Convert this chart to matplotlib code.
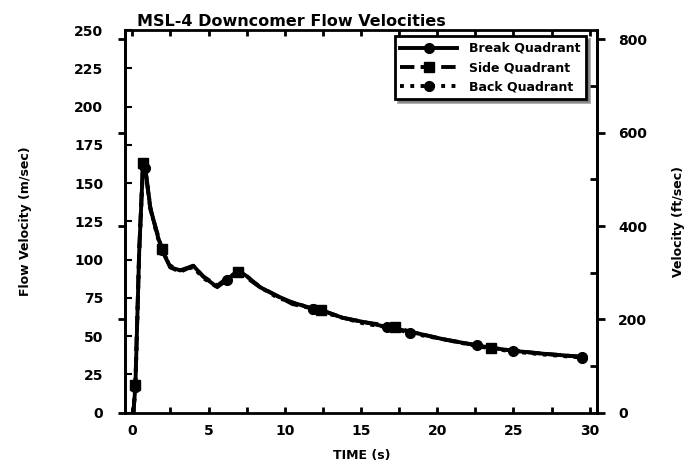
import matplotlib
matplotlib.use("Agg")
import matplotlib.pyplot as plt
from matplotlib.ticker import MultipleLocator, FixedLocator

plt.rcParams.update({
    "font.family": "DejaVu Sans",
    "font.weight": "bold",
    "font.size": 10,
})

# ── data ─────────────────────────────────────────────────────────────────────
time_s = [0.07, 0.2, 0.45, 0.7, 0.85, 1.18, 1.62, 1.95, 2.49, 3.14, 4.0, 4.65,
          5.57, 6.22, 6.94, 7.53, 8.38, 9.56, 10.5, 11.85, 12.4, 13.8, 15.3,
          16.7, 17.2, 18.2, 20.4, 22.6, 23.5, 24.95, 27.0, 29.5]

break_quadrant = [0, 17, 105, 162, 160, 134, 117, 106, 95, 93, 96, 89,
                  82, 87, 93, 89, 82, 76, 72, 68, 67, 62, 59,
                  56, 55, 53, 48, 44, 42.5, 40.5, 38.5, 36.5]
side_quadrant = [0, 18, 106, 163, 159, 133, 118, 107, 95, 92, 96, 89,
                 83, 88, 92, 88, 82, 76, 71, 68, 67, 62, 59,
                 57, 56, 53, 48, 44, 42.5, 40.5, 38.5, 36.5]
back_quadrant = [0, 17, 104, 161, 160, 134, 116, 106, 96, 93, 95, 88,
                 82, 87, 92, 89, 82, 75, 72, 68, 66, 62, 58,
                 56, 55, 52, 48, 43.5, 42, 40, 38, 36]

break_marks = [1, 3, 7, 19, 23, 27, 31]
side_marks = [1, 3, 7, 14, 20, 24, 28]
back_marks = [1, 4, 13, 19, 25, 29, 31]

x_ticks = [0, 5, 10, 15, 20, 25, 30]
y_ticks_ms = [0, 25, 50, 75, 100, 125, 150, 175, 200, 225, 250]
y_ticks_fts = [0, 200, 400, 600, 800]

FT = 0.3048


def ms_to_fts(v):
    return v / FT


def fts_to_ms(v):
    return v * FT


fig = plt.figure(figsize=(6.97, 4.69), dpi=100)
ax = fig.add_axes([0.180, 0.120, 0.677, 0.816])

ax.plot(time_s, break_quadrant, color="black", lw=2.8, ls="-",
        marker="o", markersize=7, markevery=break_marks, label="Break Quadrant")
ax.plot(time_s, side_quadrant, color="black", lw=2.8, ls="--",
        marker="s", markersize=7, markevery=side_marks, label="Side Quadrant")
ax.plot(time_s, back_quadrant, color="black", lw=2.8, ls=":",
        marker="o", markersize=7, markevery=back_marks, label="Back Quadrant")

ax.set_xlim(-0.45, 30.5)
ax.set_ylim(0, 250)
ax.set_xticks(x_ticks)
ax.xaxis.set_minor_locator(MultipleLocator(2.5))
ax.set_yticks(y_ticks_ms)
ax.tick_params(axis="x", which="both", direction="in", top=True, length=4,
               width=2, pad=8)
ax.tick_params(axis="y", which="major", direction="in", length=5, width=1.5,
               pad=16)
for s in ax.spines.values():
    s.set_linewidth(2)

# outward ticks on the left spine at 200 ft/s steps
left_fts = ax.secondary_yaxis("left", functions=(ms_to_fts, fts_to_ms))
left_fts.yaxis.set_major_locator(FixedLocator(y_ticks_fts))
left_fts.tick_params(direction="out", length=5, width=2, labelleft=False)
left_fts.spines["left"].set_linewidth(2)

# right axis in ft/s
right = ax.secondary_yaxis("right", functions=(ms_to_fts, fts_to_ms))
right.yaxis.set_major_locator(FixedLocator(y_ticks_fts))
right.yaxis.set_minor_locator(MultipleLocator(100))
right.tick_params(which="major", direction="out", length=6, width=2, pad=9)
right.tick_params(which="minor", direction="in", length=5, width=2)
right.spines["right"].set_linewidth(2)
right.set_ylabel("Velocity (ft/sec)", fontsize=9, fontweight="bold",
                 labelpad=18)

ax.set_xlabel("TIME (s)", fontsize=9, fontweight="bold", labelpad=8)
ax.set_ylabel("Flow Velocity (m/sec)", fontsize=9, fontweight="bold",
              labelpad=30)
ax.set_title("MSL-4 Downcomer Flow Velocities", fontsize=11.5,
             fontweight="bold", loc="left", x=0.025, pad=3)

leg = ax.legend(loc="upper right", bbox_to_anchor=(0.99, 1.0),
                fancybox=False, shadow=True, edgecolor="black",
                framealpha=1, fontsize=9, handlelength=4.5,
                borderpad=0.45, labelspacing=0.5, handletextpad=1.0)
leg.get_frame().set_linewidth(2)

fig.savefig("out.png", dpi=100)
